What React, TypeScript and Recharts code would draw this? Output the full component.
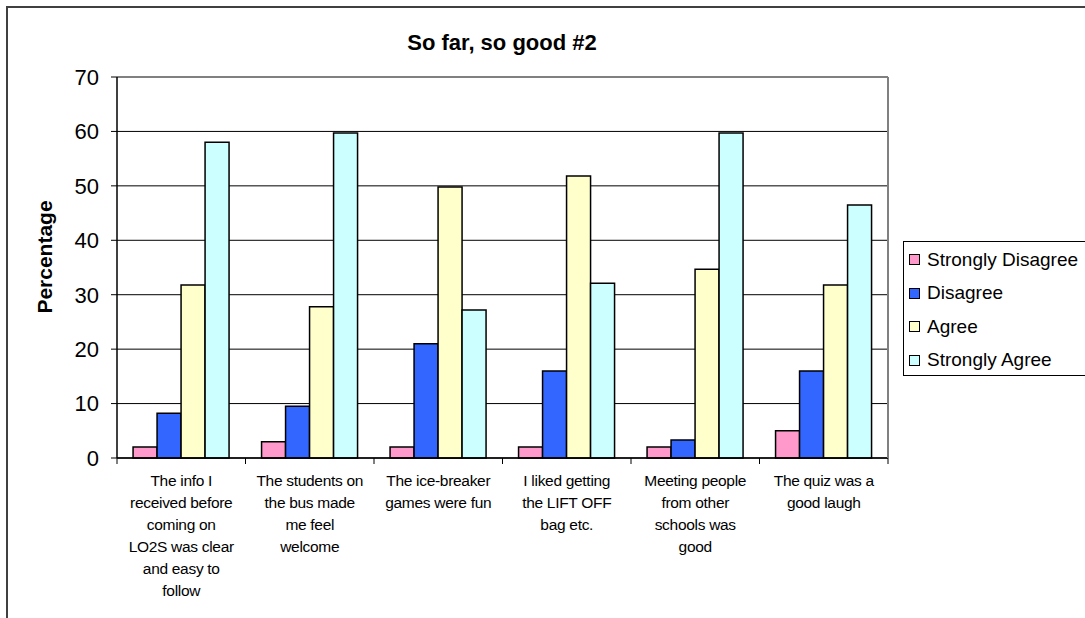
import {
  BarChart,
  Bar,
  XAxis,
  YAxis,
  CartesianGrid,
  ReferenceLine,
} from "recharts";

const categories = [
  "The info I\nreceived before\ncoming on\nLO2S was clear\nand easy to\nfollow",
  "The students on\nthe bus made\nme feel\nwelcome",
  "The ice-breaker\ngames were fun",
  "I liked getting\nthe LIFT OFF\nbag etc.",
  "Meeting people\nfrom other\nschools was\ngood",
  "The quiz was a\ngood laugh",
];

const stronglyDisagree = [2, 3, 2, 2, 2, 5];
const disagree = [8.2, 9.5, 21, 16, 3.3, 16];
const agree = [31.8, 27.8, 49.8, 51.8, 34.7, 31.8];
const stronglyAgree = [58, 59.7, 27.2, 32.1, 59.7, 46.5];

const yTicks = [0, 10, 20, 30, 40, 50, 60, 70];

const series = [
  { key: "sd", name: "Strongly Disagree", color: "#FF99CC", values: stronglyDisagree },
  { key: "d", name: "Disagree", color: "#3366FF", values: disagree },
  { key: "a", name: "Agree", color: "#FFFFCC", values: agree },
  { key: "sa", name: "Strongly Agree", color: "#CCFFFF", values: stronglyAgree },
];

const data = categories.map((c, i) => {
  const row: any = { name: c };
  series.forEach((s) => (row[s.key] = s.values[i]));
  return row;
});

const font = "'Liberation Sans', Arial, sans-serif";
const plotLeft = 117;
const plotRight = 888;

// Excel puts the category tick marks between the groups, so draw them here
const CategoryTick = (props: any) => {
  const { x, y, payload, index } = props;
  const half = (plotRight - plotLeft) / categories.length / 2;
  const lines = String(payload.value).split("\n");
  return (
    <g>
      <line x1={x - half} x2={x - half} y1={y - 8} y2={y - 2} stroke="#000" />
      {index === categories.length - 1 && (
        <line x1={x + half} x2={x + half} y1={y - 8} y2={y - 2} stroke="#000" />
      )}
      <text
        x={x}
        y={y + 20}
        textAnchor="middle"
        fontFamily={font}
        fontSize={15.5}
        letterSpacing={-0.3}
        fill="#000"
      >
        {lines.map((l, i) => (
          <tspan key={i} x={x} dy={i === 0 ? 0 : 22}>
            {l}
          </tspan>
        ))}
      </text>
    </g>
  );
};

const App = () => {
  return (
    <div
      style={{
        position: "absolute",
        left: 0,
        top: 0,
        width: 1085,
        height: 618,
        background: "#fff",
        overflow: "hidden",
        fontFamily: font,
      }}
    >
      <div
        style={{
          position: "absolute",
          left: 6,
          top: 6,
          width: 1100,
          height: 640,
          border: "2px solid #404040",
        }}
      />
      <div
        style={{
          position: "absolute",
          left: 0,
          width: 1004,
          top: 30,
          textAlign: "center",
          fontWeight: "bold",
          fontSize: 22,
        }}
      >
        So far, so good #2
      </div>
      <div
        style={{
          position: "absolute",
          left: 45,
          top: 257,
          transform: "translate(-50%, -50%) rotate(-90deg)",
          fontWeight: "bold",
          fontSize: 21,
          whiteSpace: "nowrap",
        }}
      >
        Percentage
      </div>
      <div
        style={{
          position: "absolute",
          left: 903,
          top: 241,
          width: 186,
          height: 135,
          border: "1px solid #000",
          boxSizing: "border-box",
          background: "#fff",
          paddingTop: 1,
        }}
      >
        {series.map((s) => (
          <div
            key={s.key}
            style={{
              display: "flex",
              alignItems: "center",
              height: 33.5,
              paddingLeft: 5,
              fontSize: 19,
              whiteSpace: "nowrap",
            }}
          >
            <span
              style={{
                display: "inline-block",
                width: 9,
                height: 9,
                background: s.color,
                border: "1.5px solid #000",
                marginRight: 7,
              }}
            />
            {s.name}
          </div>
        ))}
      </div>
      <div style={{ position: "absolute", left: 0, top: 0 }}>
        <BarChart
          width={1085}
          height={618}
          data={data}
          margin={{ top: 77, right: 1085 - plotRight, left: plotLeft - 60, bottom: 0 }}
          barGap={0}
          barCategoryGap="12.5%"
        >
          <CartesianGrid vertical={false} stroke="#000" strokeWidth={1} />
          <XAxis
            dataKey="name"
            interval={0}
            height={160}
            tickLine={false}
            axisLine={{ stroke: "#000", strokeWidth: 1.5 }}
            tick={<CategoryTick />}
          />
          <YAxis
            width={60}
            domain={[0, 70]}
            ticks={yTicks}
            interval={0}
            tickSize={6}
            tickMargin={12}
            tick={{ fill: "#000", fontSize: 22, fontFamily: font }}
            tickLine={{ stroke: "#000" }}
            axisLine={{ stroke: "#000", strokeWidth: 1.5 }}
          />
          <ReferenceLine y={70} stroke="#808080" strokeWidth={2} />
          {series.map((s) => (
            <Bar
              key={s.key}
              dataKey={s.key}
              name={s.name}
              fill={s.color}
              stroke="#000"
              strokeWidth={1.5}
              isAnimationActive={false}
            />
          ))}
        </BarChart>
      </div>
      {/* grey right edge of the plot area */}
      <div
        style={{
          position: "absolute",
          left: plotRight - 1,
          top: 77,
          width: 2,
          height: 381,
          background: "#808080",
        }}
      />
    </div>
  );
};

export default App;
